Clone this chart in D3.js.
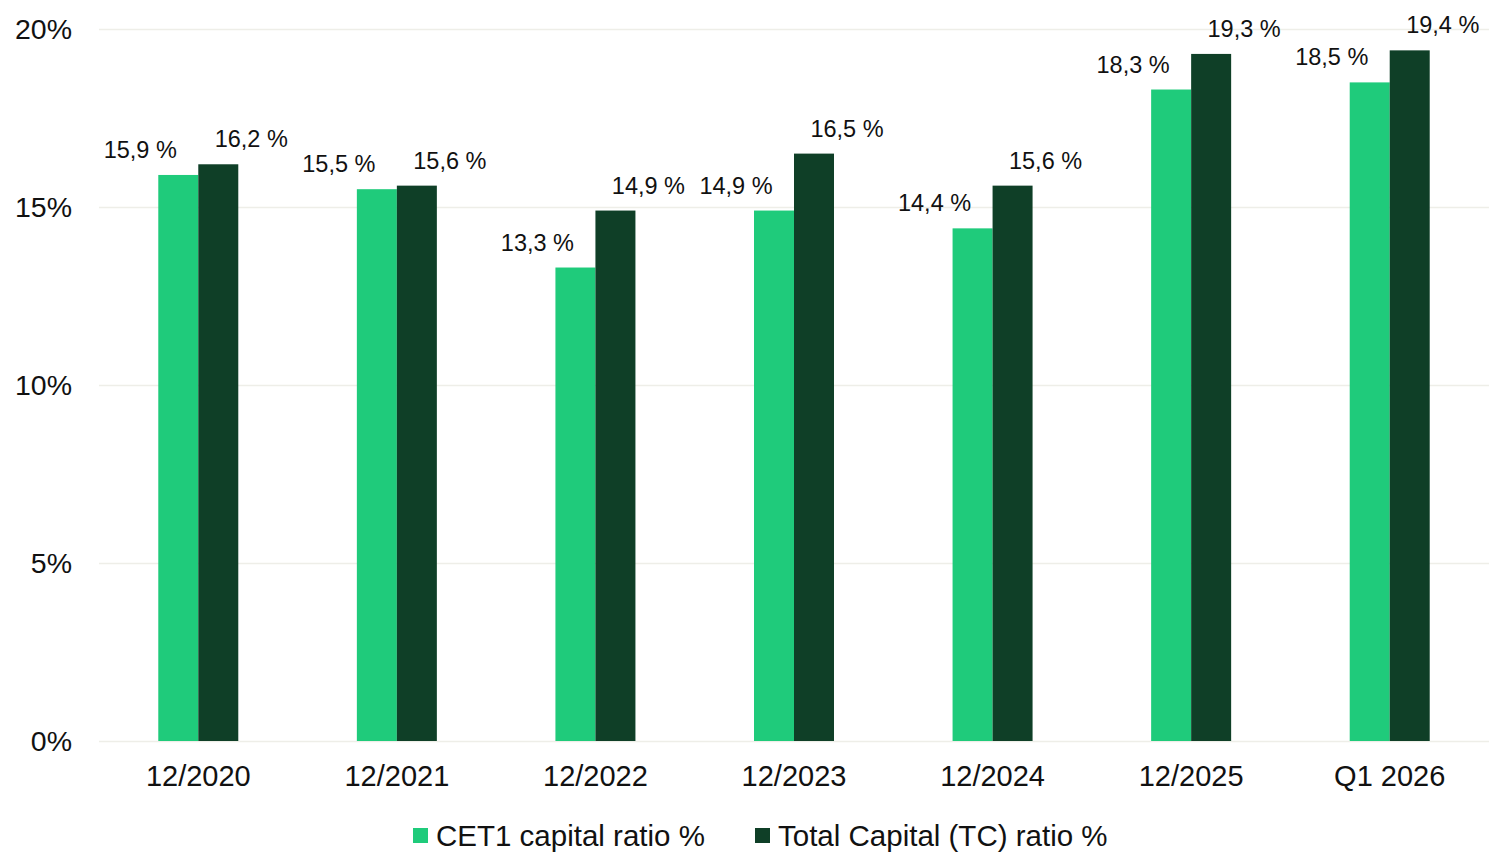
<!DOCTYPE html>
<html>
<head>
<meta charset="utf-8">
<script src="https://cdn.jsdelivr.net/npm/d3@7"></script>
<style>
  html, body { margin: 0; padding: 0; background: #fff; }
  svg { display: block; font-family: "Liberation Sans", Arial, sans-serif; }
</style>
</head>
<body>
<svg id="chart" width="1491" height="852"></svg>
<script>
const categories = ["12/2020", "12/2021", "12/2022", "12/2023", "12/2024", "12/2025", "Q1 2026"];
const cet1 = [15.9, 15.5, 13.3, 14.9, 14.4, 18.3, 18.5];
const totalCapital = [16.2, 15.6, 14.9, 16.5, 15.6, 19.3, 19.4];
const seriesNames = ["CET1 capital ratio %", "Total Capital (TC) ratio %"];
const yTicks = [0, 5, 10, 15, 20];

const colors = ["#1fcb7b", "#0f3f27"];
const svg = d3.select("#chart");

const x = d3.scaleBand().domain(categories).range([99, 1489]).paddingInner(0).paddingOuter(0);
const y = d3.scaleLinear().domain([0, 20]).range([741, 29]);
const barW = 40;

// gridlines
svg.append("g").selectAll("line").data(yTicks).join("line")
  .attr("x1", 99).attr("x2", 1489)
  .attr("y1", d => Math.round(y(d)) + 0.5).attr("y2", d => Math.round(y(d)) + 0.5)
  .attr("stroke", "#eeeee8").attr("stroke-width", 1.5);

// y axis labels
const yAxis = d3.axisLeft(y).tickValues(yTicks).tickFormat(d => d + "%").tickSize(0).tickPadding(0);
const gy = svg.append("g").attr("transform", "translate(72,0)").call(yAxis);
gy.select(".domain").remove();
gy.selectAll("text").attr("font-size", 28.5).attr("fill", "#111").attr("font-family", "Liberation Sans, Arial, sans-serif");

// x axis labels
const xAxis = d3.axisBottom(x).tickSize(0).tickPadding(0);
const gx = svg.append("g").attr("transform", "translate(0,765)").call(xAxis);
gx.select(".domain").remove();
gx.selectAll("text").attr("font-size", 29).attr("fill", "#111").attr("font-family", "Liberation Sans, Arial, sans-serif");

const series = [cet1, totalCapital];
const labelOffsets = [-38, 33];
series.forEach((vals, si) => {
  const g = svg.append("g");
  g.selectAll("rect").data(vals).join("rect")
    .attr("x", (d, i) => x(categories[i]) + x.bandwidth() / 2 - barW + si * barW)
    .attr("y", d => y(d))
    .attr("width", barW)
    .attr("height", d => y(0) - y(d))
    .attr("fill", colors[si]);
  g.selectAll("text").data(vals).join("text")
    .attr("x", (d, i) => x(categories[i]) + x.bandwidth() / 2 - barW / 2 + si * barW + labelOffsets[si])
    .attr("y", d => Math.max(y(d) - 17, 29))
    .attr("text-anchor", "middle")
    .attr("font-size", 23.5)
    .attr("fill", "#111")
    .text(d => d.toFixed(1).replace(".", ",") + " %");
});

// legend
const legend = svg.append("g");
const legendX = [413, 755];
seriesNames.forEach((name, i) => {
  legend.append("rect").attr("x", legendX[i]).attr("y", 828).attr("width", 15).attr("height", 15).attr("fill", colors[i]);
  legend.append("text").attr("x", legendX[i] + 23).attr("y", 846).attr("font-size", 29.5).attr("fill", "#111").text(name);
});
</script>
</body>
</html>
